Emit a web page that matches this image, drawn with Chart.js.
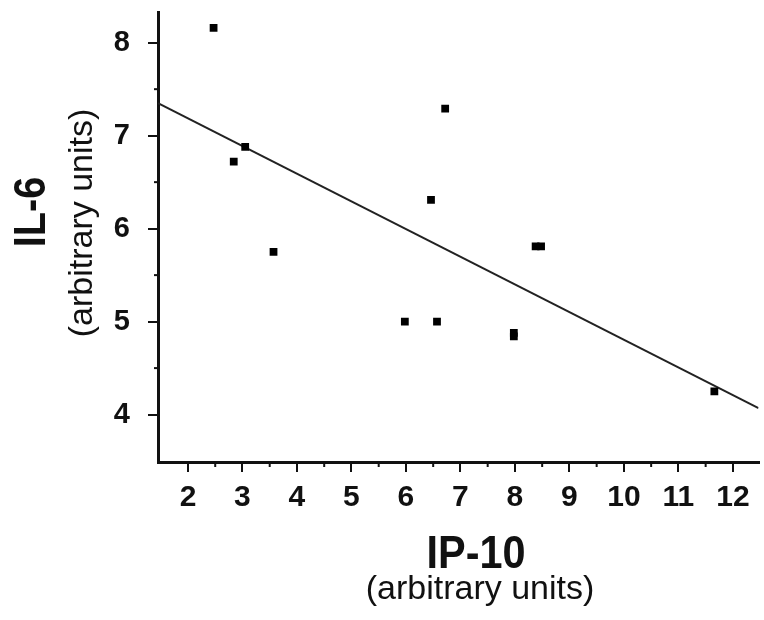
<!DOCTYPE html>
<html>
<head>
<title>IL-6 vs IP-10</title>
<script src="https://cdn.jsdelivr.net/npm/chart.js"></script>
<style>
    body { margin: 0; padding: 0; background: #fff; overflow: hidden; }
    #wrap { position: relative; width: 764px; height: 620px; }
</style>
</head>
<body>
<div id="wrap"><canvas id="myChart"></canvas></div>
<script>
// scatter values (IP-10 vs IL-6, arbitrary units)
const ip10 = [2.47, 2.84, 3.05, 3.57, 5.98, 6.46, 6.57, 6.72, 7.98, 7.98, 8.38, 8.48, 11.66];
const il6  = [8.16, 6.72, 6.88, 5.75, 5.00, 6.31, 5.00, 7.29, 4.84, 4.88, 5.81, 5.81, 4.25];
// regression line end points
const fitX = [1.45, 12.47];
const fitY = [7.35, 4.07];
// axis ticks
const xTicks = [2, 3, 4, 5, 6, 7, 8, 9, 10, 11, 12];
const xMinor = [2.5, 3.5, 4.5, 5.5, 6.5, 7.5, 8.5, 9.5, 10.5, 11.5];
const yTicks = [4, 5, 6, 7, 8];
const yMinor = [4.5, 5.5, 6.5, 7.5];

const ctx = document.getElementById('myChart');

// minor ticks + two-line axis titles
const extras = {
    id: 'extras',
    afterDraw(chart) {
        const c = chart.ctx;
        const x = chart.scales.x, y = chart.scales.y;
        c.save();
        c.strokeStyle = '#111';
        c.lineWidth = 2;
        xMinor.forEach(v => {
            const px = x.getPixelForValue(v);
            c.beginPath(); c.moveTo(px, x.top); c.lineTo(px, x.top + 5); c.stroke();
        });
        yMinor.forEach(v => {
            const py = y.getPixelForValue(v);
            c.beginPath(); c.moveTo(y.right, py); c.lineTo(y.right - 4, py); c.stroke();
        });
        c.restore();

        const label = (text, font, cx, cy, rot, sx) => {
            c.save();
            c.translate(cx, cy);
            c.rotate(rot);
            c.scale(sx, 1);
            c.fillStyle = '#111';
            c.textAlign = 'center';
            c.textBaseline = 'middle';
            c.font = font;
            c.fillText(text, 0, 0);
            c.restore();
        };
        label('IP-10', 'bold 46px "Liberation Sans", Arial, sans-serif', 476, 555, 0, 0.9);
        label('(arbitrary units)', '34px "Liberation Sans", Arial, sans-serif', 480, 590, 0, 1);
        label('IL-6', 'bold 44px "Liberation Sans", Arial, sans-serif', 33, 212, -Math.PI / 2, 0.9);
        label('(arbitrary units)', '34px "Liberation Sans", Arial, sans-serif', 83, 223, -Math.PI / 2, 1);
    }
};

new Chart(ctx, {
    type: 'scatter',
    data: {
        datasets: [{
            label: 'samples',
            data: ip10.map((v, i) => ({ x: v, y: il6[i] })),
            pointStyle: 'rect',
            pointRadius: 5.5,
            backgroundColor: '#000',
            borderColor: '#000',
            borderWidth: 0
        }, {
            label: 'fit',
            type: 'line',
            data: fitX.map((v, i) => ({ x: v, y: fitY[i] })),
            borderColor: '#222',
            borderWidth: 2,
            pointRadius: 0,
            fill: false
        }]
    },
    options: {
        responsive: true,
        maintainAspectRatio: false,
        animation: false,
        layout: { padding: { top: 12, right: 0, left: 0, bottom: 0 } },
        plugins: {
            legend: { display: false },
            tooltip: { enabled: false }
        },
        scales: {
            x: {
                type: 'linear',
                min: 1.45,
                max: 12.47,
                afterBuildTicks: s => { s.ticks = xTicks.map(v => ({ value: v })); },
                afterFit: s => { s.height = 158; s.paddingLeft = 0; s.paddingRight = 0; },
                border: { display: true, color: '#111', width: 3 },
                grid: { drawOnChartArea: false, drawTicks: true, tickLength: 10, color: '#111', lineWidth: 2 },
                ticks: {
                    color: '#111',
                    padding: 8,
                    maxRotation: 0,
                    autoSkip: false,
                    font: { size: 30, weight: 'bold', family: '"Liberation Sans", Arial, sans-serif' }
                }
            },
            y: {
                type: 'linear',
                min: 3.49,
                max: 8.33,
                afterBuildTicks: s => { s.ticks = yTicks.map(v => ({ value: v })); },
                afterFit: s => { s.width = 158; s.paddingTop = 0; s.paddingBottom = 0; },
                border: { display: true, color: '#111', width: 3 },
                grid: { drawOnChartArea: false, drawTicks: true, tickLength: 10, color: '#111', lineWidth: 2 },
                ticks: {
                    color: '#111',
                    padding: 18,
                    autoSkip: false,
                    font: { size: 29, weight: 'bold', family: '"Liberation Sans", Arial, sans-serif' }
                }
            }
        }
    },
    plugins: [extras]
});
</script>
</body>
</html>
